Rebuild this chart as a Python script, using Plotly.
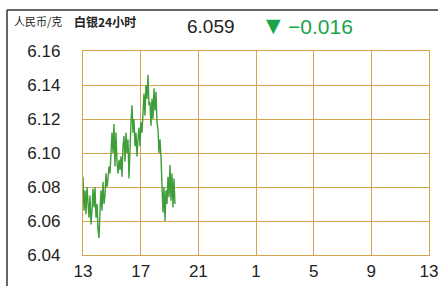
import plotly.graph_objects as go

# hours since 13:00, one sample every ~4.16 minutes
step_h = 1 / 14.42
prices = [6.086, 6.066, 6.078, 6.064, 6.080, 6.070, 6.062, 6.075, 6.058,
          6.066, 6.079, 6.068, 6.080, 6.062, 6.070, 6.055, 6.050, 6.066,
          6.078, 6.066, 6.083, 6.070, 6.075, 6.088, 6.080, 6.085, 6.092,
          6.088, 6.098, 6.112, 6.100, 6.117, 6.092, 6.112, 6.095, 6.088,
          6.096, 6.090, 6.098, 6.086, 6.104, 6.110, 6.095, 6.112, 6.100,
          6.108, 6.085, 6.110, 6.118, 6.128, 6.112, 6.120, 6.104, 6.112,
          6.098, 6.108, 6.115, 6.104, 6.118, 6.112, 6.128, 6.135, 6.122,
          6.140, 6.132, 6.146, 6.128, 6.130, 6.116, 6.132, 6.120, 6.138,
          6.125, 6.136, 6.118, 6.114, 6.100, 6.108, 6.098, 6.078, 6.065,
          6.080, 6.060, 6.078, 6.070, 6.086, 6.074, 6.093, 6.072, 6.088,
          6.068, 6.085, 6.070]
times = [i * step_h for i in range(len(prices))]

x_tickvals = [0, 4, 8, 12, 16, 20, 24]
x_ticktext = ["13", "17", "21", "1", "5", "9", "13"]
y_tickvals = [6.04, 6.06, 6.08, 6.10, 6.12, 6.14, 6.16]
y_ticktext = ["6.04", "6.06", "6.08", "6.10", "6.12", "6.14", "6.16"]

title_unit = "人民币/克"
title_name = "白银24小时"
last_price = "6.059"
change_arrow = "▼"
change = "−0.016"

grid = "#d3a64e"
green_line = "#3f9e3a"
green_text = "#1aa34a"
font = "Liberation Sans, Arial, sans-serif"
cjk = "Noto Sans CJK SC, sans-serif"

fig = go.Figure()
fig.add_trace(go.Scatter(x=times, y=prices, mode="lines",
                         line=dict(color=green_line, width=1.4),
                         hoverinfo="skip"))

fig.update_layout(
    width=438, height=286,
    margin=dict(l=83, r=9, t=51, b=31, autoexpand=False),
    paper_bgcolor="white", plot_bgcolor="white",
    showlegend=False,
    xaxis=dict(range=[0, 24], tickvals=x_tickvals, ticktext=x_ticktext,
               showgrid=True, gridcolor=grid, gridwidth=1.3,
               showline=True, linecolor=grid, linewidth=1.3, mirror=True,
               zeroline=False, ticks="", automargin=False,
               ticklabeloverflow="allow",
               tickfont=dict(family=font, size=17, color="#222")),
    yaxis=dict(range=[6.04, 6.16], tickvals=y_tickvals, ticktext=y_ticktext,
               showgrid=True, gridcolor=grid, gridwidth=1.3,
               showline=True, linecolor=grid, linewidth=1.3, mirror=True,
               zeroline=False, ticks="", ticklabelstandoff=18, automargin=False,
               tickfont=dict(family=font, size=17, color="#222")),
)

def px_x(px):
    return (px - 83) / 346

def px_y(py):
    return (255 - py) / 204

fig.add_shape(type="line", xref="paper", yref="paper",
              x0=px_x(7), x1=px_x(440), y0=px_y(10), y1=px_y(10),
              line=dict(color="#333", width=1.5))
fig.add_shape(type="line", xref="paper", yref="paper",
              x0=px_x(7), x1=px_x(7), y0=px_y(10), y1=px_y(290),
              line=dict(color="#333", width=1.5))

fig.add_annotation(xref="paper", yref="paper", x=px_x(12), y=px_y(21),
                   xanchor="left", yanchor="middle", showarrow=False,
                   text=title_unit, font=dict(family=cjk, size=11, color="#222"))
fig.add_annotation(xref="paper", yref="paper", x=px_x(72), y=px_y(21),
                   xanchor="left", yanchor="middle", showarrow=False,
                   text="<b>" + title_name + "</b>",
                   font=dict(family=cjk, size=12, color="#222"))
fig.add_annotation(xref="paper", yref="paper", x=px_x(185), y=px_y(26),
                   xanchor="left", yanchor="middle", showarrow=False,
                   text=last_price, font=dict(family=font, size=19, color="#222"))
fig.add_annotation(xref="paper", yref="paper", x=px_x(264), y=px_y(25),
                   xanchor="left", yanchor="middle", showarrow=False,
                   text=change_arrow, font=dict(family="DejaVu Sans, sans-serif", size=19, color=green_text))
fig.add_annotation(xref="paper", yref="paper", x=px_x(286), y=px_y(26),
                   xanchor="left", yanchor="middle", showarrow=False,
                   text=change, font=dict(family=font, size=21, color=green_text))

fig.write_html("out.html", config={"displayModeBar": False},
               post_script="document.body.style.margin='0';document.body.style.overflow='hidden';")
